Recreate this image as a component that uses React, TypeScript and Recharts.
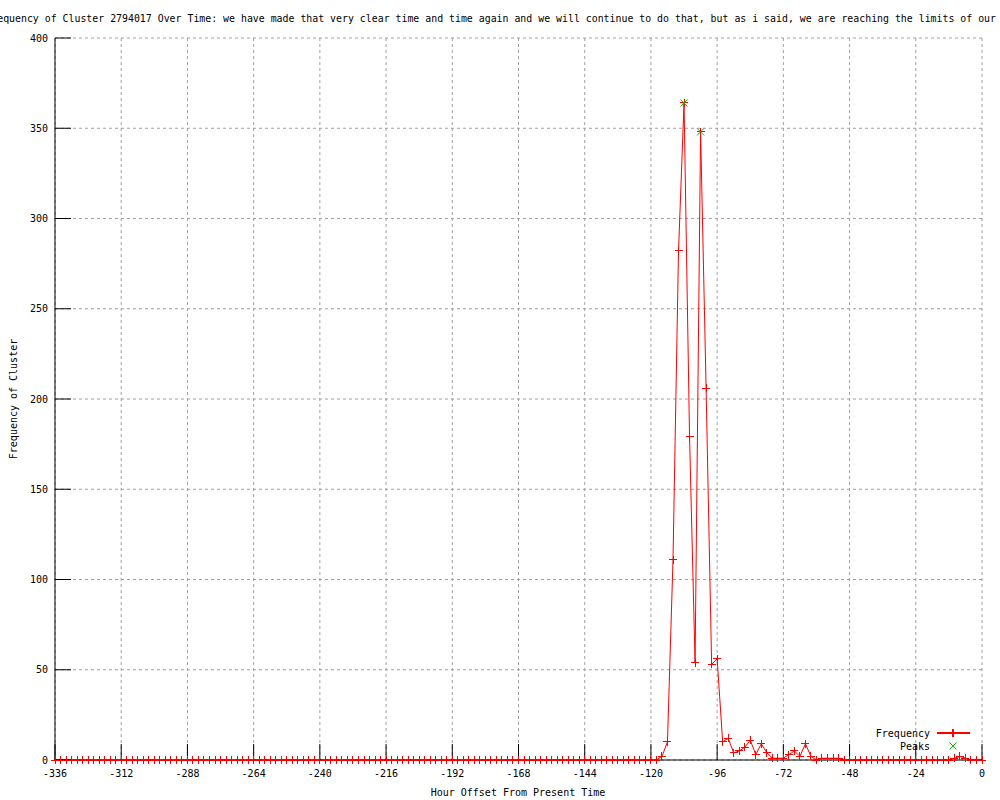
import React from 'react'
import { LineChart, Line, XAxis, YAxis, CartesianGrid } from 'recharts'

// hour offsets, one sample every 2 hours
const hours = [
  -336, -334, -332, -330, -328, -326, -324, -322, -320, -318, -316, -314,
  -312, -310, -308, -306, -304, -302, -300, -298, -296, -294, -292, -290,
  -288, -286, -284, -282, -280, -278, -276, -274, -272, -270, -268, -266,
  -264, -262, -260, -258, -256, -254, -252, -250, -248, -246, -244, -242,
  -240, -238, -236, -234, -232, -230, -228, -226, -224, -222, -220, -218,
  -216, -214, -212, -210, -208, -206, -204, -202, -200, -198, -196, -194,
  -192, -190, -188, -186, -184, -182, -180, -178, -176, -174, -172, -170,
  -168, -166, -164, -162, -160, -158, -156, -154, -152, -150, -148, -146,
  -144, -142, -140, -138, -136, -134, -132, -130, -128, -126, -124, -122,
  -120, -118, -116, -114, -112, -110, -108, -106, -104, -102, -100, -98,
  -96, -94, -92, -90, -88, -86, -84, -82, -80, -78, -76, -74,
  -72, -70, -68, -66, -64, -62, -60, -58, -56, -54, -52, -50,
  -48, -46, -44, -42, -40, -38, -36, -34, -32, -30, -28, -26,
  -24, -22, -20, -18, -16, -14, -12, -10, -8, -6, -4, -2,
  0,
]

const frequency = [
  0, 0, 0, 0, 0, 0, 0, 0, 0, 0, 0, 0,
  0, 0, 0, 0, 0, 0, 0, 0, 0, 0, 0, 0,
  0, 0, 0, 0, 0, 0, 0, 0, 0, 0, 0, 0,
  0, 0, 0, 0, 0, 0, 0, 0, 0, 0, 0, 0,
  0, 0, 0, 0, 0, 0, 0, 0, 0, 0, 0, 0,
  0, 0, 0, 0, 0, 0, 0, 0, 0, 0, 0, 0,
  0, 0, 0, 0, 0, 0, 0, 0, 0, 0, 0, 0,
  0, 0, 0, 0, 0, 0, 0, 0, 0, 0, 0, 0,
  0, 0, 0, 0, 0, 0, 0, 0, 0, 0, 0, 0,
  0, 0, 2, 10, 111, 282, 364, 179, 54, 348, 206, 53,
  56, 10, 12, 4, 5, 7, 11, 3, 9, 4, 1, 1,
  1, 3, 5, 2, 9, 2, 0, 1, 1, 1, 1, 0,
  0, 0, 0, 0, 0, 0, 0, 0, 0, 0, 0, 0,
  0, 0, 0, 0, 0, 0, 0, 1, 2, 1, 0, 0,
  0,
]

const peakHours = [-108, -102]
const peakCounts = [364, 348]

const xTicks = [-336, -312, -288, -264, -240, -216, -192, -168, -144, -120, -96, -72, -48, -24, 0]
const yTicks = [0, 50, 100, 150, 200, 250, 300, 350, 400]

const seriesNames = ['Frequency', 'Peaks']

const TITLE =
  'Frequency of Cluster 2794017 Over Time: we have made that very clear time and time again and we will continue to do that, but as i said, we are reaching the limits of our'

const RED = '#ff0000'
const GREEN = '#00c000'
const FONT = 'DejaVu Sans Mono, monospace'

const chartData = hours.map((hour, i) => ({ hour, count: frequency[i] }))
const peakData = peakHours.map((hour, i) => ({ hour, count: peakCounts[i] }))

// gnuplot style "+" point
const renderPlus = (props: any) => {
  const { cx, cy, index } = props
  if (cx == null || cy == null) return <g key={`p${index}`} />
  return (
    <path
      key={`p${index}`}
      d={`M${cx - 4},${cy}h8M${cx},${cy - 4}v8`}
      stroke={RED}
      strokeWidth={1}
      fill="none"
      shapeRendering="crispEdges"
    />
  )
}

// gnuplot style "x" point
const renderCross = (props: any) => {
  const { cx, cy, index } = props
  if (cx == null || cy == null) return <g key={`x${index}`} />
  return (
    <path
      key={`x${index}`}
      d={`M${cx - 3.5},${cy - 3.5}l7,7M${cx - 3.5},${cy + 3.5}l7,-7`}
      stroke={GREEN}
      strokeWidth={1}
      fill="none"
    />
  )
}

export default function App() {
  return (
    <div
      style={{
        position: 'absolute',
        left: 0,
        top: 0,
        width: 1000,
        height: 800,
        overflow: 'hidden',
        background: '#fff',
      }}
    >
      <LineChart
        width={1000}
        height={800}
        data={chartData}
        margin={{ top: 38, right: 18, bottom: 10, left: 0 }}
      >
        <CartesianGrid stroke="#a0a0a0" strokeDasharray="3 3" />
        <XAxis
          dataKey="hour"
          type="number"
          domain={[-336, 0]}
          ticks={xTicks}
          interval={0}
          height={30}
          tickSize={-16}
          tickMargin={26}
          axisLine={{ stroke: '#000' }}
          tickLine={{ stroke: '#000' }}
          tick={{ fontSize: 10, fontFamily: FONT, fill: '#000' }}
        />
        <XAxis
          xAxisId="top"
          orientation="top"
          dataKey="hour"
          type="number"
          domain={[-336, 0]}
          ticks={xTicks}
          interval={0}
          height={0}
          tickSize={-16}
          axisLine={{ stroke: '#000' }}
          tickLine={{ stroke: '#000' }}
          tick={false}
        />
        <YAxis
          type="number"
          domain={[0, 400]}
          ticks={yTicks}
          interval={0}
          width={55}
          tickSize={-16}
          tickMargin={23}
          axisLine={{ stroke: '#000' }}
          tickLine={{ stroke: '#000' }}
          tick={{ fontSize: 10, fontFamily: FONT, fill: '#000' }}
        />
        <YAxis
          yAxisId="right"
          orientation="right"
          type="number"
          domain={[0, 400]}
          ticks={yTicks}
          interval={0}
          width={0}
          tickSize={-16}
          axisLine={{ stroke: '#000' }}
          tickLine={{ stroke: '#000' }}
          tick={false}
        />
        <Line
          name={seriesNames[0]}
          type="linear"
          dataKey="count"
          stroke={RED}
          strokeWidth={1}
          dot={renderPlus}
          activeDot={false}
          isAnimationActive={false}
        />
        <Line
          name={seriesNames[1]}
          data={peakData}
          type="linear"
          dataKey="count"
          stroke="none"
          dot={renderCross}
          activeDot={false}
          isAnimationActive={false}
        />
      </LineChart>
      <svg
        width={1000}
        height={800}
        style={{ position: 'absolute', left: 0, top: 0, pointerEvents: 'none' }}
      >
        <text x={996} y={22} textAnchor="end" fontFamily={FONT} fontSize={9.9} fill="#000">
          {TITLE}
        </text>
        <text x={518} y={796} textAnchor="middle" fontFamily={FONT} fontSize={10} fill="#000">
          Hour Offset From Present Time
        </text>
        <text
          x={13}
          y={399}
          textAnchor="middle"
          dominantBaseline="central"
          transform="rotate(-90 13 399)"
          fontFamily={FONT}
          fontSize={10}
          fill="#000"
        >
          Frequency of Cluster
        </text>
        {/* key, bottom right inside the plot */}
        <text x={930} y={737} textAnchor="end" fontFamily={FONT} fontSize={10} fill="#000">
          {seriesNames[0]}
        </text>
        <line x1={937} y1={733} x2={970} y2={733} stroke="#ff0000" strokeWidth={1.2} shapeRendering="crispEdges" />
        <line x1={953} y1={729} x2={953} y2={737} stroke="#ff0000" strokeWidth={1.2} shapeRendering="crispEdges" />
        <text x={930} y={750} textAnchor="end" fontFamily={FONT} fontSize={10} fill="#000">
          {seriesNames[1]}
        </text>
        <path d="M949.5,742.5l7,7M949.5,749.5l7,-7" stroke={GREEN} strokeWidth={1} fill="none" />
      </svg>
    </div>
  )
}
